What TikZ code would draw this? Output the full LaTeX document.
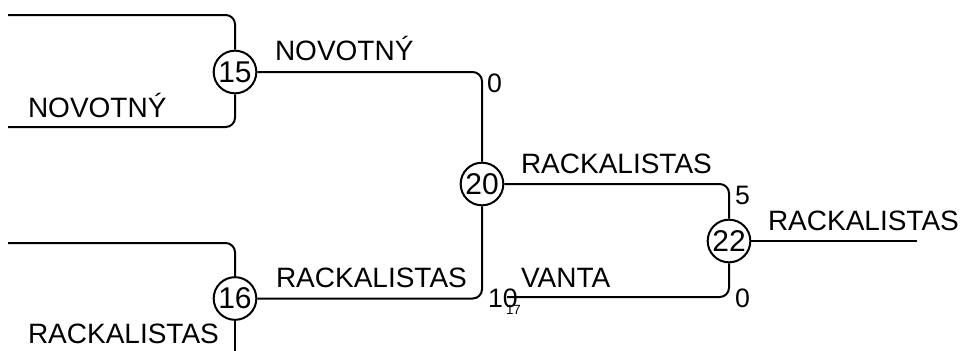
\documentclass[tikz,border=0pt]{standalone}
\usepackage{fontspec}
\setmainfont{Liberation Sans}
\begin{document}
\begin{tikzpicture}[x=0.75pt,y=-0.75pt, line width=1.5pt,
 seed/.style={draw, circle, minimum size=32pt, inner sep=0pt, font=\fontsize{22.5}{22.5}\selectfont},
 team/.style={anchor=base west, inner sep=0pt, font=\fontsize{21}{21}\selectfont},
 score/.style={anchor=base west, inner sep=0pt, font=\fontsize{20}{20}\selectfont},
 tiny/.style={anchor=base west, inner sep=0pt, font=\fontsize{10}{10}\selectfont},
 link/.style={rounded corners=7pt}]
\useasboundingbox (0,0) rectangle (963,350);
\node[seed] (c15) at (235,72) {15};
\node[seed] (c16) at (235,298.5) {16};
\node[seed] (c20) at (482,184) {20};
\node[seed] (c22) at (729,241) {22};
\coordinate (a1) at (8,15);
\coordinate (a2) at (8,127);
\coordinate (b1) at (8,243);
\coordinate (b2) at (235,352);
\coordinate (v1) at (507,297);
\coordinate (w1) at (917,241);
\draw[link] (a1) -| (c15.north);
\draw[link] (a2) -| (c15.south);
\draw[link] (b1) -| (c16.north);
\draw (c16.south) -- (b2);
\draw[link] (c15.east) -| (c20.north);
\draw[link] (c16.east) -| (c20.south);
\draw[link] (c20.east) -| (c22.north);
\draw[link] (v1) -| (c22.south);
\draw (c22.east) -- (w1);
\node[team] (t1) at (274,60) {NOVOTNÝ};
\node[team] (t2) at (27,117) {NOVOTNÝ};
\node[team] (t3) at (275,287) {RACKALISTAS};
\node[team] (t4) at (27,343) {RACKALISTAS};
\node[team] (t5) at (520,173) {RACKALISTAS};
\node[team] (t6) at (520,287) {VANTA};
\node[team] (t7) at (767,230) {RACKALISTAS};
\node[score] (s1) at (486,92) {0};
\node[score] (s2) at (734,204) {5};
\node[score] (s3) at (734,307) {0};
\node[score] (s4) at (487,307) {10};
\node[tiny] (s5) at (505,314) {17};
\end{tikzpicture}
\end{document}
